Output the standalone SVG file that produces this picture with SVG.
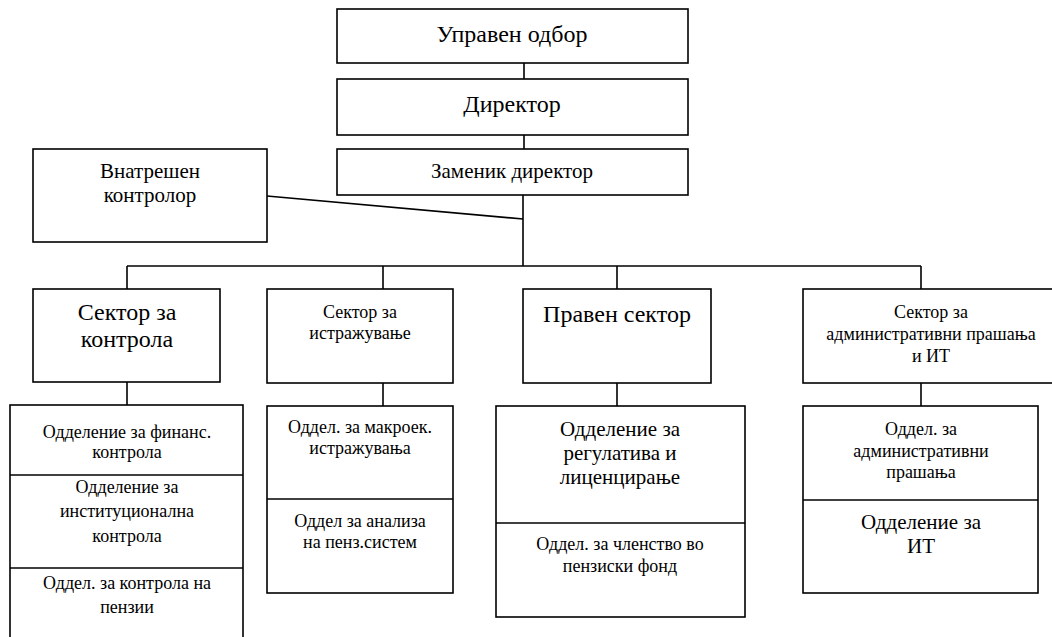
<svg xmlns="http://www.w3.org/2000/svg" width="1052" height="637" viewBox="0 0 1052 637">
<style>
rect{fill:#fff;stroke:#000;stroke-width:1.6}
line{stroke:#000;stroke-width:1.6}
text{fill:#000;text-anchor:middle}
.xl{font-size:24px}.l{font-size:21px}.s{font-size:18px}
</style>
<rect width="1052" height="637" style="fill:#fff;stroke:none"/>
<g id="connectors">
<line x1="524" y1="63" x2="524" y2="79"/>
<line x1="524" y1="135" x2="524" y2="149"/>
<line x1="523" y1="195" x2="523" y2="266"/>
<line x1="267" y1="196" x2="523" y2="219"/>
<line x1="127" y1="266" x2="921" y2="266"/>
<line x1="127" y1="266" x2="127" y2="289"/>
<line x1="383" y1="266" x2="383" y2="289"/>
<line x1="617" y1="266" x2="617" y2="289"/>
<line x1="921" y1="266" x2="921" y2="289"/>
<line x1="127" y1="382" x2="127" y2="405"/>
<line x1="383" y1="383" x2="383" y2="406"/>
<line x1="617" y1="383" x2="617" y2="406"/>
<line x1="921" y1="383" x2="921" y2="406"/>
</g>
<g id="board"><rect x="337" y="9" width="351" height="54"/><text font-family="Liberation Serif" class="xl" x="512" y="42">Управен одбор</text></g>
<g id="director"><rect x="337" y="79" width="351" height="56"/><text font-family="Liberation Serif" class="xl" x="512" y="112">Директор</text></g>
<g id="deputy"><rect x="337" y="149" width="351" height="46"/><text font-family="Liberation Serif" class="l" x="512" y="178">Заменик директор</text></g>
<g id="internal"><rect x="33" y="149" width="234" height="93"/><text font-family="Liberation Serif" class="l" x="150" y="178">Внатрешен</text><text font-family="Liberation Serif" class="l" x="150" y="202">контролор</text></g>
<g id="sector-control"><rect x="33" y="289" width="187" height="93"/><text font-family="Liberation Serif" class="xl" x="127" y="320">Сектор за</text><text font-family="Liberation Serif" class="xl" x="127" y="347">контрола</text></g>
<g id="sector-research"><rect x="267" y="289" width="186" height="94"/><text font-family="Liberation Serif" class="s" x="360" y="318">Сектор за</text><text font-family="Liberation Serif" class="s" x="360" y="339">истражување</text></g>
<g id="sector-legal"><rect x="523" y="289" width="188" height="94"/><text font-family="Liberation Serif" class="xl" x="617" y="322">Правен сектор</text></g>
<g id="sector-admin"><rect x="803" y="289" width="257" height="94"/><text font-family="Liberation Serif" class="s" x="931" y="318">Сектор за</text><text font-family="Liberation Serif" class="s" x="931" y="340">административни прашања</text><text font-family="Liberation Serif" class="s" x="931" y="362">и ИТ</text></g>
<g id="dept-control"><rect x="10" y="405" width="233" height="245"/>
<line x1="10" y1="475" x2="243" y2="475"/><line x1="10" y1="568" x2="243" y2="568"/>
<text font-family="Liberation Serif" class="s" x="127" y="438">Одделение за финанс.</text><text font-family="Liberation Serif" class="s" x="127" y="458">контрола</text>
<text font-family="Liberation Serif" class="s" x="127" y="493">Одделение за</text><text font-family="Liberation Serif" class="s" x="127" y="517">институционална</text><text font-family="Liberation Serif" class="s" x="127" y="542">контрола</text>
<text font-family="Liberation Serif" class="s" x="127" y="589">Оддел. за контрола на</text><text font-family="Liberation Serif" class="s" x="127" y="613">пензии</text></g>
<g id="dept-research"><rect x="267" y="406" width="186" height="187"/>
<line x1="267" y1="499" x2="453" y2="499"/>
<text font-family="Liberation Serif" class="s" x="360" y="433">Оддел. за макроек.</text><text font-family="Liberation Serif" class="s" x="360" y="454">истражувања</text>
<text font-family="Liberation Serif" class="s" x="360" y="527">Оддел за анализа</text><text font-family="Liberation Serif" class="s" x="360" y="548">на пенз.систем</text></g>
<g id="dept-legal"><rect x="496" y="406" width="249" height="211"/>
<line x1="496" y1="523" x2="745" y2="523"/>
<text font-family="Liberation Serif" class="l" x="620" y="436">Одделение за</text><text font-family="Liberation Serif" class="l" x="620" y="460">регулатива и</text><text font-family="Liberation Serif" class="l" x="620" y="484">лиценцирање</text>
<text font-family="Liberation Serif" class="s" x="620" y="550">Оддел. за членство во</text><text font-family="Liberation Serif" class="s" x="620" y="572">пензиски фонд</text></g>
<g id="dept-admin"><rect x="803" y="406" width="235" height="187"/>
<line x1="803" y1="500" x2="1038" y2="500"/>
<text font-family="Liberation Serif" class="s" x="921" y="435">Оддел. за</text><text font-family="Liberation Serif" class="s" x="921" y="457">административни</text><text font-family="Liberation Serif" class="s" x="921" y="478">прашања</text>
<text font-family="Liberation Serif" class="l" x="921" y="529">Одделение за</text><text font-family="Liberation Serif" class="l" x="921" y="553">ИТ</text></g>
</svg>
